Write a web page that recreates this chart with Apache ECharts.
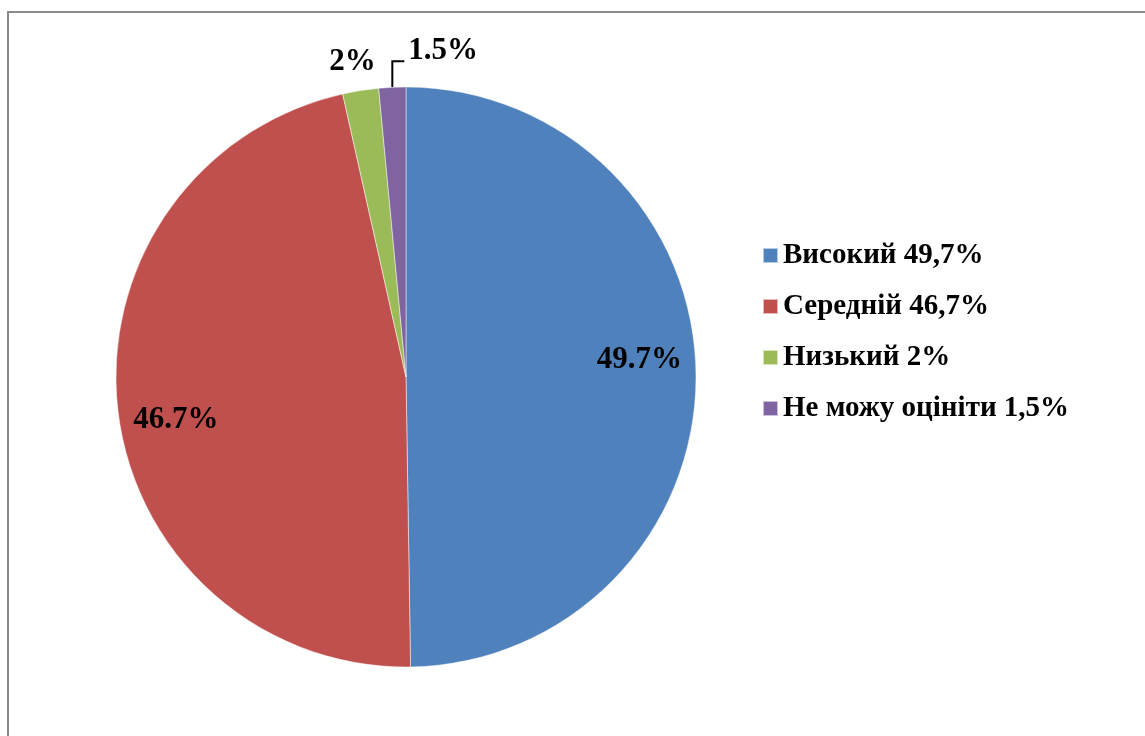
<!DOCTYPE html>
<html>
<head>
<meta charset="utf-8">
<script src="https://cdn.jsdelivr.net/npm/echarts@6/dist/echarts.min.js"></script>
<style>
html, body {
    margin: 0;
    padding: 0;
    background: #fff;
}
.frame {
    position: absolute;
    left: 7px;
    top: 11px;
    right: 0;
    bottom: 0;
    border-top: 2px solid #8a8a8a;
    border-left: 2px solid #8a8a8a;
}
#chart {
    position: absolute;
    left: 0;
    top: 0;
    width: 1145px;
    height: 736px;
}
</style>
</head>
<body>
<div class="frame"></div>
<div id="chart"></div>
<script>
// дані з діаграми
var names = ["Високий 49,7%", "Середній 46,7%", "Низький 2%", "Не можу оцініти 1,5%"];
var values = [49.7, 46.7, 2, 1.5];
var colors = ["#4F81BD", "#C0504D", "#9BBB59", "#8064A2"];
var insideLabel = [true, true, false, false]; // підписи всередині сектора

var font = "'Liberation Serif', 'Times New Roman', serif";

var mainData = names.map(function (n, i) {
    return {
        name: n,
        value: values[i],
        itemStyle: { color: colors[i] },
        label: { show: !insideLabel[i] },
        labelLine: {
            show: !insideLabel[i],
            lineStyle: { opacity: i === 3 ? 1 : 0 },
        },
    };
});

var labelData = names.map(function (n, i) {
    return {
        name: n,
        value: values[i],
        itemStyle: { color: "rgba(0,0,0,0)" },
        label: { show: insideLabel[i] },
    };
});

var chart = echarts.init(document.getElementById("chart"));
var option = {
    animation: false,
    legend: {
        orient: "vertical",
        left: 757,
        top: 236,
        itemWidth: 15,
        itemHeight: 15,
        itemGap: 22,
        icon: "rect",
        selectedMode: false,
        data: names,
        textStyle: {
            fontFamily: font,
            fontWeight: "bold",
            fontSize: 29,
            color: "#000",
        },
    },
    series: [
        {
            type: "pie",
            center: [406, 377],
            radius: 290,
            startAngle: 90,
            clockwise: true,
            avoidLabelOverlap: false,
            itemStyle: {
                borderColor: "rgba(255,255,255,0.6)",
                borderWidth: 0.8,
            },
            emphasis: { disabled: true },
            label: {
                position: "outside",
                formatter: "{c}%",
                fontFamily: font,
                fontWeight: "bold",
                fontSize: 31,
                color: "#000",
            },
            labelLine: {
                length: 26,
                length2: 12,
                smooth: false,
                lineStyle: { color: "#000", width: 2 },
            },
            labelLayout: function (params) {
                var p = params.labelLinePoints;
                if (!p) {
                    return {};
                }
                var x0 = p[0][0];
                var y0 = p[0][1];
                if (params.dataIndex === 3) {
                    return {
                        x: x0 + 16,
                        y: y0 - 36,
                        align: "left",
                        verticalAlign: "middle",
                        labelLinePoints: [
                            [x0, y0],
                            [x0, y0 - 26],
                            [x0 + 12, y0 - 26],
                        ],
                    };
                }
                return {
                    x: x0 - 8,
                    y: y0 - 29,
                    align: "center",
                    verticalAlign: "middle",
                };
            },
            data: mainData,
        },
        {
            // прозорий шар лише для внутрішніх підписів
            type: "pie",
            silent: true,
            center: [406, 377],
            radius: [172, 290],
            startAngle: 93.8,
            clockwise: true,
            avoidLabelOverlap: false,
            legendHoverLink: false,
            label: {
                position: "inside",
                formatter: "{c}%",
                fontFamily: font,
                fontWeight: "bold",
                fontSize: 31,
                color: "#000",
            },
            labelLine: { show: false },
            data: labelData,
        },
    ],
};
chart.setOption(option);
</script>
</body>
</html>
